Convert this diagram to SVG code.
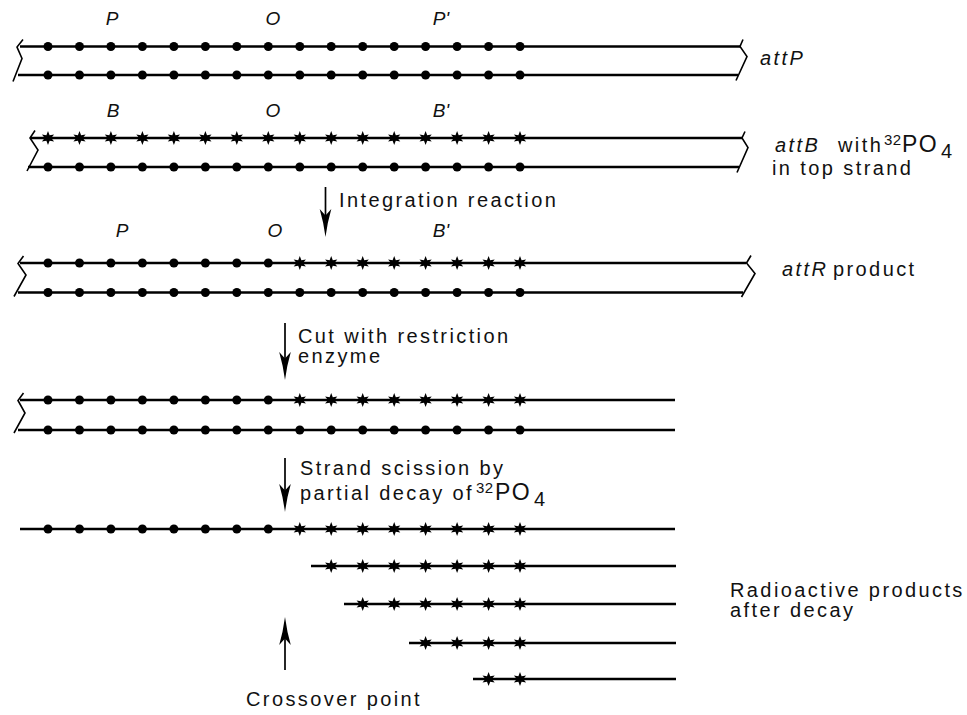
<svg xmlns="http://www.w3.org/2000/svg" width="967" height="715" viewBox="0 0 967 715">
<style>
.s{stroke:#000;stroke-width:2.7;fill:none}
.z{stroke:#000;stroke-width:1.6;fill:none;stroke-linejoin:miter}
.sh{stroke:#000;stroke-width:1.7;fill:none}
.t{font-family:"Liberation Sans",Arial,sans-serif;font-size:20px;letter-spacing:2.4px;fill:#111}
.it{font-style:italic}
.sup{font-family:"Liberation Sans",Arial,sans-serif;font-size:15px;letter-spacing:0.5px;fill:#111}
.po{font-family:"Liberation Sans",Arial,sans-serif;font-size:23px;letter-spacing:1.5px;fill:#111}
.lb{font-family:"Liberation Sans",Arial,sans-serif;font-size:19px;font-style:italic;fill:#111;text-anchor:middle}
</style>
<defs>
<path id="st" d="M0,-7 L1.6,-2.8 L6.1,-3.5 L3.2,0 L6.1,3.5 L1.6,2.8 L0,7 L-1.6,2.8 L-6.1,3.5 L-3.2,0 L-6.1,-3.5 L-1.6,-2.8 Z" fill="#000"/>
<circle id="dt" r="4.5" fill="#000"/>
<path id="ah" d="M0,0 Q-2,-15 -5.8,-28 L0,-21.5 L5.8,-28 Q2,-15 0,0 Z" fill="#000"/>
</defs>
<rect width="967" height="715" fill="#fff"/>

<g id="attP">
<text class="lb" x="112" y="25">P</text>
<text class="lb" x="273" y="25">O</text>
<text class="lb" x="441" y="25">P'</text>
<line class="s" x1="20" y1="46.5" x2="740" y2="46.5"/>
<line class="s" x1="18" y1="75" x2="738" y2="75"/>
<polyline class="z" points="23,39.5 17,47 22,58.5 13,81.5"/>
<polyline class="z" points="743,39.5 740,46.5 747,56.5 736,80.5"/>
<g>
<use href="#dt" x="48" y="46.5"/><use href="#dt" x="79.5" y="46.5"/><use href="#dt" x="110.9" y="46.5"/><use href="#dt" x="142.4" y="46.5"/><use href="#dt" x="173.9" y="46.5"/><use href="#dt" x="205.4" y="46.5"/><use href="#dt" x="236.8" y="46.5"/><use href="#dt" x="268.3" y="46.5"/><use href="#dt" x="299.8" y="46.5"/><use href="#dt" x="331.2" y="46.5"/><use href="#dt" x="362.7" y="46.5"/><use href="#dt" x="394.2" y="46.5"/><use href="#dt" x="425.6" y="46.5"/><use href="#dt" x="457.1" y="46.5"/><use href="#dt" x="488.6" y="46.5"/><use href="#dt" x="520" y="46.5"/>
<use href="#dt" x="48" y="75"/><use href="#dt" x="79.5" y="75"/><use href="#dt" x="110.9" y="75"/><use href="#dt" x="142.4" y="75"/><use href="#dt" x="173.9" y="75"/><use href="#dt" x="205.4" y="75"/><use href="#dt" x="236.8" y="75"/><use href="#dt" x="268.3" y="75"/><use href="#dt" x="299.8" y="75"/><use href="#dt" x="331.2" y="75"/><use href="#dt" x="362.7" y="75"/><use href="#dt" x="394.2" y="75"/><use href="#dt" x="425.6" y="75"/><use href="#dt" x="457.1" y="75"/><use href="#dt" x="488.6" y="75"/><use href="#dt" x="520" y="75"/>
</g>
<text class="t it" x="760" y="65">attP</text>
</g>

<g id="attB">
<text class="lb" x="113" y="117">B</text>
<text class="lb" x="273" y="117">O</text>
<text class="lb" x="441" y="117">B'</text>
<line class="s" x1="30" y1="138" x2="742" y2="138"/>
<line class="s" x1="28" y1="167" x2="739" y2="167"/>
<polyline class="z" points="35,130.5 30,138 38,150 27,171"/>
<polyline class="z" points="745,131.5 742,138 748,147.5 737,172.5"/>
<g>
<use href="#st" x="48" y="138"/><use href="#st" x="79.5" y="138"/><use href="#st" x="110.9" y="138"/><use href="#st" x="142.4" y="138"/><use href="#st" x="173.9" y="138"/><use href="#st" x="205.4" y="138"/><use href="#st" x="236.8" y="138"/><use href="#st" x="268.3" y="138"/><use href="#st" x="299.8" y="138"/><use href="#st" x="331.2" y="138"/><use href="#st" x="362.7" y="138"/><use href="#st" x="394.2" y="138"/><use href="#st" x="425.6" y="138"/><use href="#st" x="457.1" y="138"/><use href="#st" x="488.6" y="138"/><use href="#st" x="520" y="138"/>
<use href="#dt" x="48" y="167"/><use href="#dt" x="79.5" y="167"/><use href="#dt" x="110.9" y="167"/><use href="#dt" x="142.4" y="167"/><use href="#dt" x="173.9" y="167"/><use href="#dt" x="205.4" y="167"/><use href="#dt" x="236.8" y="167"/><use href="#dt" x="268.3" y="167"/><use href="#dt" x="299.8" y="167"/><use href="#dt" x="331.2" y="167"/><use href="#dt" x="362.7" y="167"/><use href="#dt" x="394.2" y="167"/><use href="#dt" x="425.6" y="167"/><use href="#dt" x="457.1" y="167"/><use href="#dt" x="488.6" y="167"/><use href="#dt" x="520" y="167"/>
</g>
<text class="t it" x="775" y="152">attB</text>
<text class="t" x="838" y="152">with</text>
<text class="sup" x="884" y="145">32</text>
<text class="po" x="902" y="152">PO</text>
<text class="t" x="941" y="158">4</text>
<text class="t" x="772" y="175">in top strand</text>
</g>

<g id="attR">
<text class="lb" x="122" y="237">P</text>
<text class="lb" x="275" y="237">O</text>
<text class="lb" x="441" y="237">B'</text>
<line class="s" x1="20" y1="263" x2="746" y2="263"/>
<line class="s" x1="18" y1="292.5" x2="743" y2="292.5"/>
<polyline class="z" points="23.5,256 18,263.5 26,275 14,296.5"/>
<polyline class="z" points="751,255.5 746.5,263 755,273.5 741.5,297"/>
<g>
<use href="#dt" x="48" y="263"/><use href="#dt" x="79.5" y="263"/><use href="#dt" x="110.9" y="263"/><use href="#dt" x="142.4" y="263"/><use href="#dt" x="173.9" y="263"/><use href="#dt" x="205.4" y="263"/><use href="#dt" x="236.8" y="263"/><use href="#dt" x="268.3" y="263"/><use href="#st" x="299.8" y="263"/><use href="#st" x="331.2" y="263"/><use href="#st" x="362.7" y="263"/><use href="#st" x="394.2" y="263"/><use href="#st" x="425.6" y="263"/><use href="#st" x="457.1" y="263"/><use href="#st" x="488.6" y="263"/><use href="#st" x="520" y="263"/>
<use href="#dt" x="48" y="292.5"/><use href="#dt" x="79.5" y="292.5"/><use href="#dt" x="110.9" y="292.5"/><use href="#dt" x="142.4" y="292.5"/><use href="#dt" x="173.9" y="292.5"/><use href="#dt" x="205.4" y="292.5"/><use href="#dt" x="236.8" y="292.5"/><use href="#dt" x="268.3" y="292.5"/><use href="#dt" x="299.8" y="292.5"/><use href="#dt" x="331.2" y="292.5"/><use href="#dt" x="362.7" y="292.5"/><use href="#dt" x="394.2" y="292.5"/><use href="#dt" x="425.6" y="292.5"/><use href="#dt" x="457.1" y="292.5"/><use href="#dt" x="488.6" y="292.5"/><use href="#dt" x="520" y="292.5"/>
</g>
<text class="t it" x="782" y="276">attR</text>
<text class="t" x="833" y="276">product</text>
</g>

<g id="cut">
<line class="s" x1="20" y1="400" x2="675" y2="400"/>
<line class="s" x1="18" y1="430" x2="675" y2="430"/>
<polyline class="z" points="23.5,393 18,400.5 25,413 14,433"/>
<g>
<use href="#dt" x="48" y="400"/><use href="#dt" x="79.5" y="400"/><use href="#dt" x="110.9" y="400"/><use href="#dt" x="142.4" y="400"/><use href="#dt" x="173.9" y="400"/><use href="#dt" x="205.4" y="400"/><use href="#dt" x="236.8" y="400"/><use href="#dt" x="268.3" y="400"/><use href="#st" x="299.8" y="400"/><use href="#st" x="331.2" y="400"/><use href="#st" x="362.7" y="400"/><use href="#st" x="394.2" y="400"/><use href="#st" x="425.6" y="400"/><use href="#st" x="457.1" y="400"/><use href="#st" x="488.6" y="400"/><use href="#st" x="520" y="400"/>
<use href="#dt" x="48" y="430"/><use href="#dt" x="79.5" y="430"/><use href="#dt" x="110.9" y="430"/><use href="#dt" x="142.4" y="430"/><use href="#dt" x="173.9" y="430"/><use href="#dt" x="205.4" y="430"/><use href="#dt" x="236.8" y="430"/><use href="#dt" x="268.3" y="430"/><use href="#dt" x="299.8" y="430"/><use href="#dt" x="331.2" y="430"/><use href="#dt" x="362.7" y="430"/><use href="#dt" x="394.2" y="430"/><use href="#dt" x="425.6" y="430"/><use href="#dt" x="457.1" y="430"/><use href="#dt" x="488.6" y="430"/><use href="#dt" x="520" y="430"/>
</g>
</g>

<g id="decay">
<line class="s" x1="20" y1="529" x2="675" y2="529"/>
<use href="#dt" x="48" y="529"/><use href="#dt" x="79.5" y="529"/><use href="#dt" x="110.9" y="529"/><use href="#dt" x="142.4" y="529"/><use href="#dt" x="173.9" y="529"/><use href="#dt" x="205.4" y="529"/><use href="#dt" x="236.8" y="529"/><use href="#dt" x="268.3" y="529"/><use href="#st" x="299.8" y="529"/><use href="#st" x="331.2" y="529"/><use href="#st" x="362.7" y="529"/><use href="#st" x="394.2" y="529"/><use href="#st" x="425.6" y="529"/><use href="#st" x="457.1" y="529"/><use href="#st" x="488.6" y="529"/><use href="#st" x="520" y="529"/>
</g>
<g id="frag1">
<line class="s" x1="311" y1="566" x2="676" y2="566"/>
<use href="#st" x="331.2" y="566"/><use href="#st" x="362.7" y="566"/><use href="#st" x="394.2" y="566"/><use href="#st" x="425.6" y="566"/><use href="#st" x="457.1" y="566"/><use href="#st" x="488.6" y="566"/><use href="#st" x="520" y="566"/>
</g>
<g id="frag2">
<line class="s" x1="344" y1="604" x2="676" y2="604"/>
<use href="#st" x="362.7" y="604"/><use href="#st" x="394.2" y="604"/><use href="#st" x="425.6" y="604"/><use href="#st" x="457.1" y="604"/><use href="#st" x="488.6" y="604"/><use href="#st" x="520" y="604"/>
</g>
<g id="frag3">
<line class="s" x1="409" y1="643" x2="676" y2="643"/>
<use href="#st" x="425.6" y="643"/><use href="#st" x="457.1" y="643"/><use href="#st" x="488.6" y="643"/><use href="#st" x="520" y="643"/>
</g>
<g id="frag4">
<line class="s" x1="473" y1="679" x2="676" y2="679"/>
<use href="#st" x="488.6" y="679"/><use href="#st" x="520" y="679"/>
</g>

<g id="labels">
<text class="t" x="339" y="207">Integration reaction</text>
<text class="t" x="298" y="343">Cut with restriction</text>
<text class="t" x="298" y="363">enzyme</text>
<text class="t" x="300" y="475">Strand scission by</text>
<text class="t" x="300" y="500">partial decay of</text>
<text class="sup" x="476" y="493">32</text>
<text class="po" x="495" y="500">PO</text>
<text class="t" x="534" y="506">4</text>
<text class="t" x="730" y="597">Radioactive products</text>
<text class="t" x="730" y="617">after decay</text>
<text class="t" x="246" y="706">Crossover point</text>
</g>

<g id="connectors">
<line class="sh" x1="325.5" y1="187" x2="325.5" y2="222"/>
<use href="#ah" x="325.5" y="237"/>
<line class="sh" x1="285" y1="323" x2="285" y2="365"/>
<use href="#ah" x="285" y="380"/>
<line class="sh" x1="285" y1="458" x2="285" y2="497"/>
<use href="#ah" x="285" y="512"/>
<line class="sh" x1="285" y1="670" x2="285" y2="632"/>
<use href="#ah" transform="translate(285,617) rotate(180)"/>
</g>
</svg>
